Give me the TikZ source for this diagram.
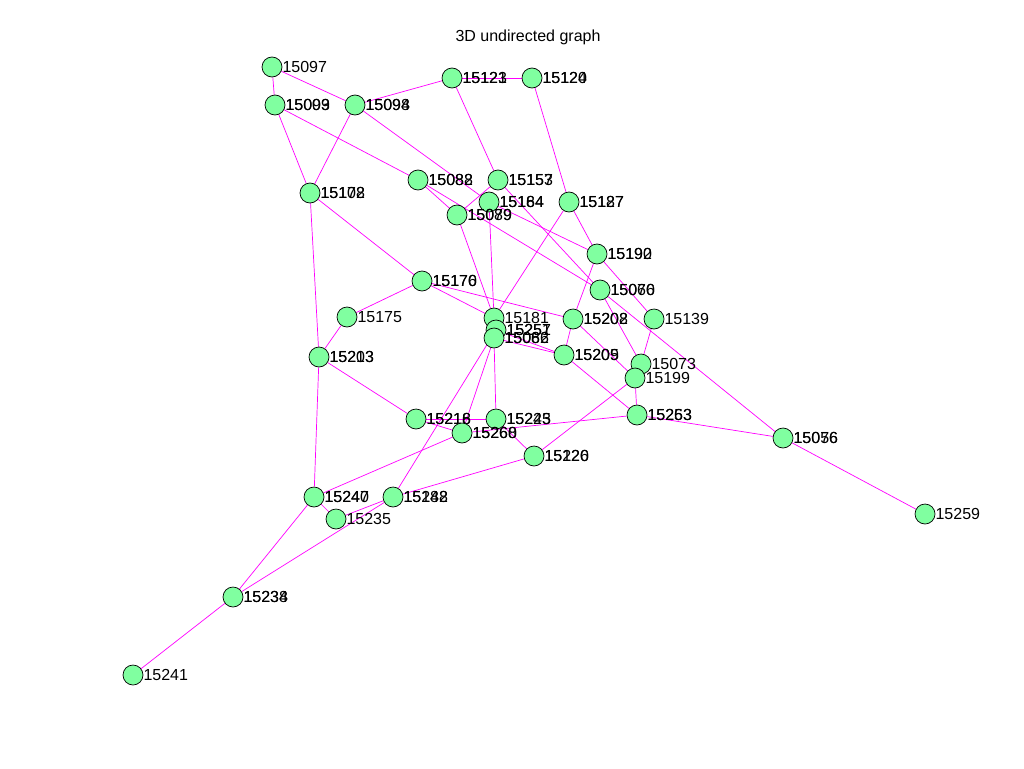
\documentclass[tikz,border=0pt]{standalone}
\usepackage{fontspec}
\setmainfont{Liberation Sans}
\usetikzlibrary{backgrounds}
\definecolor{vgreen}{RGB}{128,255,160}
\definecolor{vmagenta}{RGB}{255,0,255}
\tikzstyle{vertex} = [circle, draw=black, line width=0.7pt, fill=vgreen, minimum size=20pt, inner sep=0pt]
\tikzstyle{edge} = [draw=vmagenta, line width=0.7pt]
\tikzstyle{tag} = [inner sep=0pt, font=\fontsize{16}{16}\selectfont]
\newcommand{\twotag}[2]{\rlap{#1}#2}

\begin{document}
\begin{tikzpicture}[x=1pt, y=-1pt]
  \useasboundingbox (0,0) rectangle (1024,768);
  \node (title) [tag] at (528,37) {3D undirected graph};

  % vertices, top to bottom
  \node (v15097) [vertex, label={[tag]right:15097}] at (272,67) {};
  \node (v15099) [vertex, label={[tag]right:\twotag{15009}{15093}}] at (275,105) {};
  \node (v15098) [vertex, label={[tag]right:\twotag{15098}{15094}}] at (355,105) {};
  \node (v15123) [vertex, label={[tag]right:\twotag{15123}{15121}}] at (452,78) {};
  \node (v15120) [vertex, label={[tag]right:\twotag{15120}{15124}}] at (532,78) {};
  \node (v15102) [vertex, label={[tag]right:\twotag{15102}{15178}}] at (310,193) {};
  \node (v15082) [vertex, label={[tag]right:\twotag{15082}{15088}}] at (418,180) {};
  \node (v15153) [vertex, label={[tag]right:\twotag{15153}{15157}}] at (498,180) {};
  \node (v15184) [vertex, label={[tag]right:\twotag{15184}{15164}}] at (489,202) {};
  \node (v15079) [vertex, label={[tag]right:\twotag{15079}{15089}}] at (457,215) {};
  \node (v15187) [vertex, label={[tag]right:\twotag{15187}{15127}}] at (569,202) {};
  \node (v15190) [vertex, label={[tag]right:\twotag{15190}{15192}}] at (597,254) {};
  \node (v15070) [vertex, label={[tag]right:\twotag{15070}{15066}}] at (600,290) {};
  \node (v15170) [vertex, label={[tag]right:\twotag{15170}{15176}}] at (422,281) {};
  \node (v15175) [vertex, label={[tag]right:15175}] at (347,317) {};
  \node (v15181) [vertex, label={[tag]right:15181}] at (494,318) {};
  \node (v15257) [vertex, label={[tag]right:\twotag{15257}{15251}}] at (496,330) {};
  \node (v15086) [vertex, label={[tag]right:\twotag{15086}{15062}}] at (494,338) {};
  \node (v15202) [vertex, label={[tag]right:\twotag{15202}{15208}}] at (573,319) {};
  \node (v15139) [vertex, label={[tag]right:15139}] at (654,319) {};
  \node (v15203) [vertex, label={[tag]right:\twotag{15203}{15213}}] at (319,357) {};
  \node (v15209) [vertex, label={[tag]right:\twotag{15209}{15205}}] at (564,355) {};
  \node (v15073) [vertex, label={[tag]right:15073}] at (641,364) {};
  \node (v15199) [vertex, label={[tag]right:15199}] at (635,378) {};
  \node (v15218) [vertex, label={[tag]right:\twotag{15218}{15216}}] at (416,419) {};
  \node (v15225) [vertex, label={[tag]right:\twotag{15225}{15243}}] at (496,419) {};
  \node (v15260) [vertex, label={[tag]right:\twotag{15260}{15268}}] at (462,433) {};
  \node (v15263) [vertex, label={[tag]right:\twotag{15263}{15253}}] at (637,415) {};
  \node (v15220) [vertex, label={[tag]right:\twotag{15220}{15126}}] at (534,456) {};
  \node (v15056) [vertex, label={[tag]right:\twotag{15056}{15076}}] at (783,438) {};
  \node (v15259) [vertex, label={[tag]right:15259}] at (925,514) {};
  \node (v15247) [vertex, label={[tag]right:\twotag{15247}{15240}}] at (314,497) {};
  \node (v15248) [vertex, label={[tag]right:\twotag{15248}{15182}}] at (393,497) {};
  \node (v15235) [vertex, label={[tag]right:15235}] at (336,519) {};
  \node (v15234) [vertex, label={[tag]right:\twotag{15234}{15238}}] at (233,597) {};
  \node (v15241) [vertex, label={[tag]right:15241}] at (133,675) {};

  \begin{pgfonlayer}{background}
  % upper part
  \draw [edge] (v15097) -- (v15099);  \draw [edge] (v15097) -- (v15098);
  \draw [edge] (v15098) -- (v15123);  \draw [edge] (v15123) -- (v15120);
  \draw [edge] (v15099) -- (v15102);  \draw [edge] (v15098) -- (v15102);
  \draw [edge] (v15099) -- (v15082);  \draw [edge] (v15098) -- (v15184);
  \draw [edge] (v15123) -- (v15153);  \draw [edge] (v15120) -- (v15187);
  \draw [edge] (v15082) -- (v15079);  \draw [edge] (v15082) -- (v15070);
  \draw [edge] (v15153) -- (v15079);  \draw [edge] (v15153) -- (v15070);
  \draw [edge] (v15184) -- (v15190);  \draw [edge] (v15184) -- (v15181);
  \draw [edge] (v15079) -- (v15181);  \draw [edge] (v15187) -- (v15181);
  \draw [edge] (v15187) -- (v15190);
  % middle part
  \draw [edge] (v15190) -- (v15202);  \draw [edge] (v15190) -- (v15139);
  \draw [edge] (v15070) -- (v15073);  \draw [edge] (v15070) -- (v15056);
  \draw [edge] (v15139) -- (v15073);  \draw [edge] (v15202) -- (v15209);
  \draw [edge] (v15202) -- (v15199);  \draw [edge] (v15170) -- (v15202);
  \draw [edge] (v15086) -- (v15209);  \draw [edge] (v15257) -- (v15209);
  \draw [edge] (v15209) -- (v15263);  \draw [edge] (v15199) -- (v15220);
  \draw [edge] (v15199) -- (v15263);
  \draw [edge] (v15102) -- (v15203);  \draw [edge] (v15102) -- (v15170);
  \draw [edge] (v15170) -- (v15175);  \draw [edge] (v15170) -- (v15181);
  \draw [edge] (v15175) -- (v15203);  \draw [edge] (v15203) -- (v15218);
  \draw [edge] (v15203) -- (v15247);
  % lower part
  \draw [edge] (v15218) -- (v15225);  \draw [edge] (v15218) -- (v15260);
  \draw [edge] (v15260) -- (v15263);  \draw [edge] (v15225) -- (v15220);
  \draw [edge] (v15086) -- (v15225);  \draw [edge] (v15257) -- (v15248);
  \draw [edge] (v15086) -- (v15260);  \draw [edge] (v15263) -- (v15056);
  \draw [edge] (v15056) -- (v15259);  \draw [edge] (v15260) -- (v15247);
  \draw [edge] (v15220) -- (v15248);  \draw [edge] (v15247) -- (v15235);
  \draw [edge] (v15247) -- (v15234);  \draw [edge] (v15248) -- (v15235);
  \draw [edge] (v15248) -- (v15234);  \draw [edge] (v15234) -- (v15241);
  \end{pgfonlayer}
\end{tikzpicture}
\end{document}
